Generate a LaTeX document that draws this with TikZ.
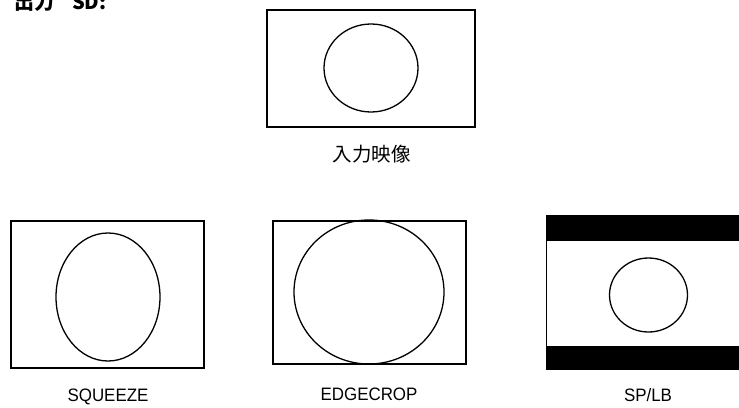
\documentclass[tikz,border=0pt]{standalone}
\usepackage{fontspec}
\setmainfont{Noto Sans CJK JP}
\newfontfamily\latinlbl[FakeStretch=0.94]{Liberation Sans}
\begin{document}
\begin{tikzpicture}[x=1pt,y=-1pt,
  frame/.style={draw=black,line width=1.3pt},
  outline/.style={draw=black,line width=1.3pt},
  cjklbl/.style={font=\fontsize{19.5}{20}\selectfont,inner sep=0pt,anchor=base},
  lbl/.style={font=\latinlbl\fontsize{18}{18}\selectfont,inner sep=0pt,anchor=base},
  bar/.style={fill=black}]
\useasboundingbox (0,0) rectangle (739,407);
% title (partly cut off at top, as in the reference)
\node[anchor=base west,inner sep=0pt,font=\fontsize{20}{20}\selectfont\bfseries] (title) at (14,9.5) {出力\hspace{0.9em}SD:};
% input image
\draw[frame] (267,10) rectangle (475,127);
\draw[outline] (371,68) ellipse [x radius=47,y radius=44];
\node[cjklbl] (in) at (371.5,161.5) {入力映像};
% squeeze
\draw[frame] (11,221) rectangle (204,368);
\draw[outline] (108,297) ellipse [x radius=52,y radius=64];
\node[lbl] (sq) at (108,401) {SQUEEZE};
% edgecrop
\draw[frame] (273,221) rectangle (466,364);
\draw[outline] (369,292) ellipse [x radius=75,y radius=72];
\node[lbl] (ec) at (369,400.7) {EDGECROP};
% SP/LB
\fill[bar] (546,215) rectangle (739,241);
\fill[bar] (546,346) rectangle (739,370);
\draw[line width=0.8pt] (546,215) -- (546,370);
\draw[outline] (648.5,295) ellipse [x radius=39,y radius=37];
\node[lbl] (sp) at (648,401) {SP/LB};
\end{tikzpicture}
\end{document}
